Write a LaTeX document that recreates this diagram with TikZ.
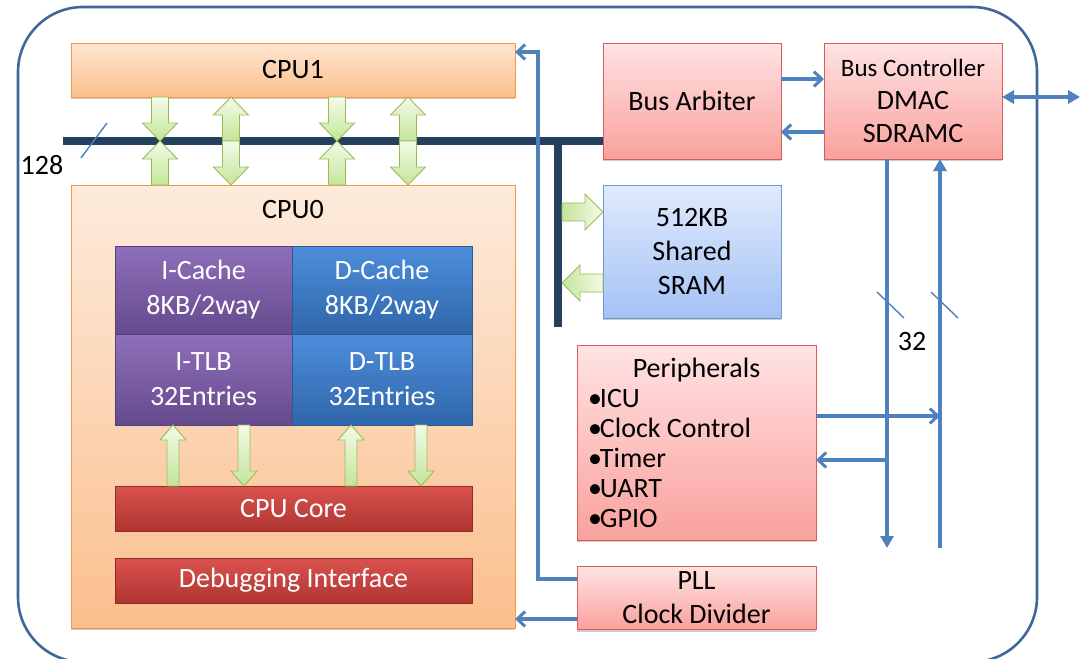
\documentclass[tikz,border=0pt]{standalone}
\usepackage{fontspec}
\setmainfont{Carlito}
\usetikzlibrary{arrows.meta,calc,shadows}

\definecolor{frameblue}{HTML}{41679A}
\definecolor{linkblue}{HTML}{4F81BD}
\definecolor{busnavy}{HTML}{243F60}
\definecolor{orangeedge}{HTML}{F79646}
\definecolor{orangetop}{HTML}{FDE5D1}
\definecolor{orangepale}{HTML}{FDEBDC}
\definecolor{orangebot}{HTML}{FBBF8D}
\definecolor{pinktop}{HTML}{FFE3E3}
\definecolor{pinkbot}{HTML}{F9A19D}
\definecolor{pinkedge}{HTML}{D65D5A}
\definecolor{skytop}{HTML}{E0EAFD}
\definecolor{skybot}{HTML}{A4C2F5}
\definecolor{skyedge}{HTML}{6E9AD3}
\definecolor{purptop}{HTML}{8F6FBA}
\definecolor{purpbot}{HTML}{654A8D}
\definecolor{purpedge}{HTML}{55407A}
\definecolor{bluetop}{HTML}{4D8EDC}
\definecolor{bluebot}{HTML}{3066AA}
\definecolor{blueedge}{HTML}{2A5A93}
\definecolor{redtop}{HTML}{DB524E}
\definecolor{redbot}{HTML}{AE3531}
\definecolor{rededge}{HTML}{8E2B28}
\definecolor{greenlight}{HTML}{F3FBE8}
\definecolor{greendeep}{HTML}{C4E59A}
\definecolor{greenedge}{HTML}{9BBB59}

\newcommand\txt[1]{\fontsize{#1}{#1}\selectfont}
\newcommand\itm{\kern-1pt•\kern-2pt}

% Block arrow between two points (axis-aligned):
% [#1 extra style] #2 tail, #3 tip, #4 half shaft width, #5 half head width, #6 head length
\newcommand\blockarrow[6][]{%
  \draw[greenblock,#1] let \p1=(#2), \p2=(#3),
    \n1={veclen(\x2-\x1,\y2-\y1)},
    \n2={(\x2-\x1)/\n1}, \n3={(\y2-\y1)/\n1} in
    ({\x1-(\n3)*#4pt},{\y1+(\n2)*#4pt}) --
    ({\x2-(\n2)*#6pt-(\n3)*#4pt},{\y2-(\n3)*#6pt+(\n2)*#4pt}) --
    ({\x2-(\n2)*#6pt-(\n3)*#5pt},{\y2-(\n3)*#6pt+(\n2)*#5pt}) --
    (\p2) --
    ({\x2-(\n2)*#6pt+(\n3)*#5pt},{\y2-(\n3)*#6pt-(\n2)*#5pt}) --
    ({\x2-(\n2)*#6pt+(\n3)*#4pt},{\y2-(\n3)*#6pt-(\n2)*#4pt}) --
    ({\x1+(\n3)*#4pt},{\y1-(\n2)*#4pt}) -- cycle;}

\tikzset{
  frame/.style={draw=frameblue, line width=2.6pt, rounded corners=65pt},
  boxbase/.style={rectangle, inner sep=0pt, outer sep=0pt, line width=0.9pt,
    align=center, font=\txt{28}, text=black},
  softshadow/.style={drop shadow={shadow xshift=0pt, shadow yshift=-2.2pt,
    opacity=0.45, fill=black!45}},
  cpubox/.style={boxbase, softshadow, draw=orangeedge,
    top color=orangetop, bottom color=orangebot},
  cpuouter/.style={boxbase, softshadow, draw=orangeedge,
    top color=orangepale, bottom color=orangebot},
  pinkbox/.style={boxbase, softshadow, draw=pinkedge,
    top color=pinktop, bottom color=pinkbot},
  skybox/.style={boxbase, softshadow, draw=skyedge,
    top color=skytop, bottom color=skybot},
  purpbox/.style={boxbase, draw=purpedge, text=white,
    top color=purptop, bottom color=purpbot},
  bluebox/.style={boxbase, draw=blueedge, text=white,
    top color=bluetop, bottom color=bluebot},
  redbar/.style={boxbase, draw=rededge, text=white,
    top color=redtop, bottom color=redbot},
  greenblock/.style={draw=greenedge, line width=0.9pt, line join=miter,
    top color=greenlight, bottom color=greendeep},
  greenside/.style={left color=greendeep, right color=greenlight},
  bus/.style={draw=busnavy, line width=8pt},
  link/.style={draw=linkblue, line width=3.2pt},
  barb/.style={-{Straight Barb[length=8pt,width=15pt,line width=3pt]}},
  tip/.style={-{Triangle[length=12pt,width=13pt]}},
  tipboth/.style={{Triangle[length=12pt,width=13pt]}-{Triangle[length=12pt,width=13pt]}},
  tick/.style={draw=linkblue, line width=1.4pt},
  numlabel/.style={font=\txt{28}, inner sep=0pt},
}

\begin{document}
\begin{tikzpicture}[x=1pt,y=-1pt]
\useasboundingbox (0,0) rectangle (1088,659);
\begin{scope}
\clip (0,0) rectangle (1088,659);

% chip outline
\draw[frame] (18,7) rectangle (1037,662);

% processors
\node[cpubox, minimum width=444pt, minimum height=54pt] (cpu1) at (293,70) {CPU1};
\node[cpuouter, minimum width=444pt, minimum height=443pt] (cpu0) at (293,406.5) {};
\node[font=\txt{28}, inner sep=0pt] (cpu0title) at (293,210) {CPU0};

% caches and TLBs
\node[purpbox, minimum width=177pt, minimum height=88pt] (icache) at (203.5,290)
  {I-Cache\\[7pt]8KB/2way};
\node[bluebox, minimum width=180pt, minimum height=88pt] (dcache) at (382,290)
  {D-Cache\\[7pt]8KB/2way};
\node[purpbox, minimum width=177pt, minimum height=91pt] (itlb) at (203.5,379.5)
  {I-TLB\\[7pt]32Entries};
\node[bluebox, minimum width=180pt, minimum height=91pt] (dtlb) at (382,379.5)
  {D-TLB\\[7pt]32Entries};
\node[redbar, minimum width=357pt, minimum height=45pt] (core) at (293.5,508.5) {CPU Core};
\node[redbar, minimum width=357pt, minimum height=45pt] (debug) at (293.5,580.5) {Debugging Interface};

% system blocks
\node[pinkbox, minimum width=178pt, minimum height=116pt] (arbiter) at (692,101) {Bus Arbiter};
\node[pinkbox, minimum width=178pt, minimum height=116pt] (busctl) at (913,101)
  {\txt{25}Bus Controller\\[5pt]\txt{28}DMAC\\[5pt]SDRAMC};
\node[skybox, minimum width=178pt, minimum height=133pt] (sram) at (692,251.5)
  {512KB\\[6pt]Shared\\[6pt]SRAM};
\node[pinkbox, minimum width=239pt, minimum height=195pt, align=left,
      font=\fontsize{28}{30}\selectfont] (periph) at (696.5,442.5)
  {\makebox[215pt]{Peripherals}\\\itm ICU\\\itm Clock Control\\\itm Timer\\\itm UART\\\itm GPIO};
\node[pinkbox, minimum width=239pt, minimum height=63pt] (pll) at (696.5,598)
  {PLL\\[6pt]Clock Divider};

% 128-bit shared bus
\coordinate (busL) at (63,141);
\coordinate (busJ) at (558,141);
\coordinate (busB) at (558,327);
\draw[bus] (busL) -- (busL -| arbiter.west);
\draw[bus] (busJ) -- (busB);
\draw[tick] (81,158) -- (107,123);
\node[numlabel] (w128) at (42,165) {128};

% bus taps of the two processors
\coordinate (t1) at (160,141);
\coordinate (t2) at (231,141);
\coordinate (t3) at (337,141);
\coordinate (t4) at (408,141);
\blockarrow{t1 |- cpu1.south}{t1}{8.5}{17.5}{18}
\blockarrow{t1 |- cpu0.north}{t1}{8.5}{17.5}{18}
\blockarrow{t2}{t2 |- cpu1.south}{8.5}{17.5}{18}
\blockarrow{t2}{t2 |- cpu0.north}{8.5}{17.5}{18}
\blockarrow{t3 |- cpu1.south}{t3}{8.5}{17.5}{18}
\blockarrow{t3 |- cpu0.north}{t3}{8.5}{17.5}{18}
\blockarrow{t4}{t4 |- cpu1.south}{8.5}{17.5}{18}
\blockarrow{t4}{t4 |- cpu0.north}{8.5}{17.5}{18}

% shared SRAM port
\coordinate (s1) at (562,212);
\coordinate (s2) at (562,283);
\blockarrow[greenside]{s1}{s1 -| sram.west}{9}{18}{18}
\blockarrow[greenside]{s2 -| sram.west}{s2}{9}{18}{18}

% core to TLB paths
\coordinate (c1) at (173,0);
\coordinate (c2) at (244,0);
\coordinate (c3) at (351,0);
\coordinate (c4) at (421,0);
\blockarrow{c1 |- core.north}{c1 |- itlb.south}{6}{13}{15}
\blockarrow{c2 |- itlb.south}{c2 |- core.north}{6}{13}{15}
\blockarrow{c3 |- core.north}{c3 |- dtlb.south}{6}{13}{15}
\blockarrow{c4 |- dtlb.south}{c4 |- core.north}{6}{13}{15}

% arbiter <-> bus controller
\draw[link,barb] ([yshift=22pt]arbiter.east) -- ([yshift=22pt]busctl.west);
\draw[link,barb] ([yshift=-31pt]busctl.west) -- ([yshift=-31pt]arbiter.east);
\coordinate (ext) at (1080,97);
\draw[link,tipboth] (busctl.east |- ext) -- (ext);

% 32-bit peripheral bus
\coordinate (dn) at (887,548);
\coordinate (up) at (940,548);
\draw[link,tip] (busctl.south -| dn) -- (dn);
\draw[link,tip] (up) -- (busctl.south -| up);
\draw[tick] (877,292) -- (904,318);
\draw[tick] (931,292) -- (958,318);
\node[numlabel] (w32) at (912,342) {32};
\coordinate (pout) at (0,416);
\coordinate (pin) at (0,460);
\draw[link,barb] (periph.east |- pout) -- (up |- pout);
\draw[link,barb] (dn |- pin) -- (periph.east |- pin);

% clock distribution
\coordinate (fb) at (538,52);
\coordinate (clk1) at (0,579);
\coordinate (clk0) at (0,619);
\draw[link,barb] (pll.west |- clk1) -| (fb) -- (fb -| cpu1.east);
\draw[link,barb] (pll.west |- clk0) -- (cpu0.east |- clk0);
\end{scope}
\end{tikzpicture}
\end{document}
